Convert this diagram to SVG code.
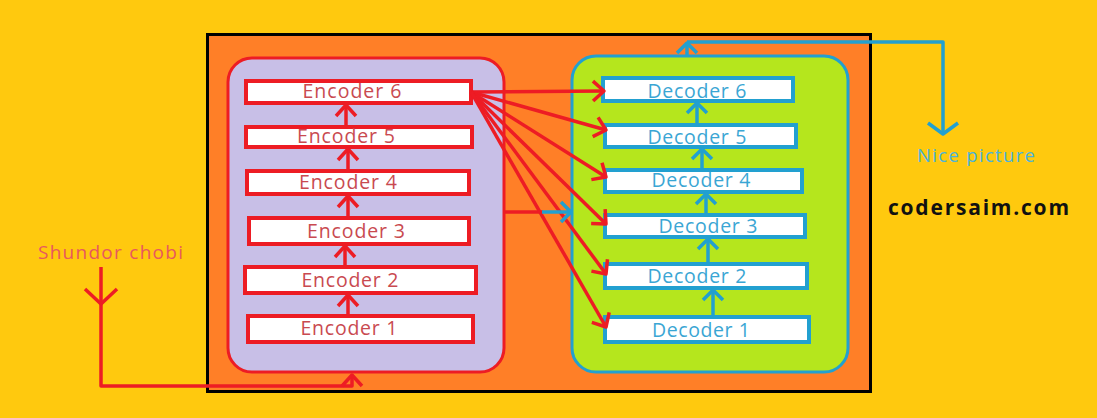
<svg xmlns="http://www.w3.org/2000/svg" width="1097" height="418" viewBox="0 0 1097 418">
<style>
.enc{fill:#fff;stroke:#ED1C24;stroke-width:4}
.dec{fill:#fff;stroke:#22A0D0;stroke-width:4}
.et{font-family:"Open Sans","Noto Sans",sans-serif;font-size:19.500px;fill:#C94A50;text-anchor:middle}
.dt{font-family:"Open Sans","Noto Sans",sans-serif;font-size:19.500px;fill:#3AA6D4;text-anchor:middle}
.r{stroke:#ED1C24;stroke-width:3.500;fill:none;stroke-linejoin:round}
.b{stroke:#22A0D0;stroke-width:3.500;fill:none;stroke-linejoin:round}
</style>
<defs>
<marker id="ar" markerUnits="userSpaceOnUse" markerWidth="30" markerHeight="30" viewBox="-15 -15 30 30" refX="0" refY="0" orient="auto">
<path d="M-11,-10 L0,0 L-11,10" fill="none" stroke="#ED1C24" stroke-width="3.500" stroke-linejoin="round"/>
</marker>
<marker id="ab" markerUnits="userSpaceOnUse" markerWidth="30" markerHeight="30" viewBox="-15 -15 30 30" refX="0" refY="0" orient="auto">
<path d="M-10,-10 L0,0 L-10,10" fill="none" stroke="#22A0D0" stroke-width="3.500" stroke-linejoin="round"/>
</marker>
</defs>
<rect x="0" y="0" width="1097" height="418" fill="#FFC90E"/>
<rect id="frame" x="207.500" y="34.500" width="663" height="357" fill="#FF7F27" stroke="#000" stroke-width="3"/>
<rect id="encoder-stack" x="228" y="58" width="276" height="314" rx="24" fill="#C8BFE7" stroke="#ED1C24" stroke-width="3"/>
<rect id="decoder-stack" x="572" y="56" width="276" height="316" rx="24" fill="#B5E61D" stroke="#22A0D0" stroke-width="3"/>

<g id="enc6"><rect class="enc" x="246" y="81" width="225" height="22"/><text class="et" x="352" y="98" textLength="99" lengthAdjust="spacing">Encoder 6</text></g>
<g id="enc5"><rect class="enc" x="246" y="127" width="226" height="20"/><text class="et" x="346" y="143" textLength="98" lengthAdjust="spacing">Encoder 5</text></g>
<g id="enc4"><rect class="enc" x="247" y="171" width="222" height="23"/><text class="et" x="348" y="189" textLength="98" lengthAdjust="spacing">Encoder 4</text></g>
<g id="enc3"><rect class="enc" x="249" y="218" width="220" height="26"/><text class="et" x="356" y="238" textLength="98" lengthAdjust="spacing">Encoder 3</text></g>
<g id="enc2"><rect class="enc" x="245" y="267" width="231" height="26"/><text class="et" x="350" y="287" textLength="97" lengthAdjust="spacing">Encoder 2</text></g>
<g id="enc1"><rect class="enc" x="248" y="316" width="225" height="26"/><text class="et" x="349" y="335" textLength="97" lengthAdjust="spacing">Encoder 1</text></g>

<g id="dec6"><rect class="dec" x="603" y="78" width="190" height="23"/><text class="dt" x="697" y="98" textLength="99" lengthAdjust="spacing">Decoder 6</text></g>
<g id="dec5"><rect class="dec" x="605" y="125" width="191" height="22"/><text class="dt" x="697" y="144" textLength="99" lengthAdjust="spacing">Decoder 5</text></g>
<g id="dec4"><rect class="dec" x="605" y="170" width="197" height="22"/><text class="dt" x="701" y="187" textLength="99" lengthAdjust="spacing">Decoder 4</text></g>
<g id="dec3"><rect class="dec" x="605" y="215" width="200" height="22"/><text class="dt" x="708" y="233" textLength="99" lengthAdjust="spacing">Decoder 3</text></g>
<g id="dec2"><rect class="dec" x="605" y="264" width="202" height="24"/><text class="dt" x="697" y="283" textLength="99" lengthAdjust="spacing">Decoder 2</text></g>
<g id="dec1"><rect class="dec" x="605" y="317" width="204" height="25"/><text class="dt" x="701" y="337" textLength="98" lengthAdjust="spacing">Decoder 1</text></g>

<g id="connectors">
<line class="r" x1="348" y1="314" x2="348" y2="295" marker-end="url(#ar)"/>
<line class="r" x1="345" y1="265" x2="345" y2="246" marker-end="url(#ar)"/>
<line class="r" x1="348" y1="216" x2="348" y2="196" marker-end="url(#ar)"/>
<line class="r" x1="348" y1="169" x2="348" y2="149" marker-end="url(#ar)"/>
<line class="r" x1="346" y1="125" x2="346" y2="105" marker-end="url(#ar)"/>
<polyline class="r" points="101,267 101,386 352,386 352,375" marker-end="url(#ar)"/>
<polyline class="r" points="85,289 101,304 117,289"/>

<line class="b" x1="713" y1="315" x2="713" y2="290" marker-end="url(#ab)"/>
<line class="b" x1="708" y1="262" x2="708" y2="239" marker-end="url(#ab)"/>
<line class="b" x1="706" y1="213" x2="706" y2="194" marker-end="url(#ab)"/>
<line class="b" x1="702" y1="168" x2="702" y2="149" marker-end="url(#ab)"/>
<line class="b" x1="697" y1="123" x2="697" y2="103" marker-end="url(#ab)"/>
<line class="b" x1="687" y1="55" x2="687" y2="43" marker-end="url(#ab)"/>
<polyline class="b" points="687,42 943,42 943,134"/>
<polyline class="b" points="928,123 943,134 958,123"/>

<line class="r" x1="471" y1="92" x2="604" y2="91" marker-end="url(#ar)"/>
<line class="r" x1="471" y1="92" x2="606" y2="130" marker-end="url(#ar)"/>
<line class="r" x1="471" y1="92" x2="606" y2="177" marker-end="url(#ar)"/>
<line class="r" x1="471" y1="92" x2="606" y2="224" marker-end="url(#ar)"/>
<line class="r" x1="471" y1="92" x2="606" y2="274" marker-end="url(#ar)"/>
<line class="r" x1="471" y1="92" x2="606" y2="327" marker-end="url(#ar)"/>

<line class="r" x1="504" y1="212" x2="543" y2="212"/>
<line class="b" x1="542" y1="212" x2="571" y2="212" marker-end="url(#ab)"/>
</g>

<text x="38" y="259" font-family="'Open Sans','Noto Sans',sans-serif" font-size="19" fill="#E8585E" textLength="145" lengthAdjust="spacing">Shundor chobi</text>
<text x="917" y="162" font-family="'Open Sans','Noto Sans',sans-serif" font-size="18.500" fill="#4BB3DB" textLength="118" lengthAdjust="spacing">Nice picture</text>
<text x="888" y="215" font-family="'Open Sans','Noto Sans',sans-serif" font-size="21" font-weight="bold" fill="#111" textLength="181" lengthAdjust="spacing">codersaim.com</text>
</svg>
